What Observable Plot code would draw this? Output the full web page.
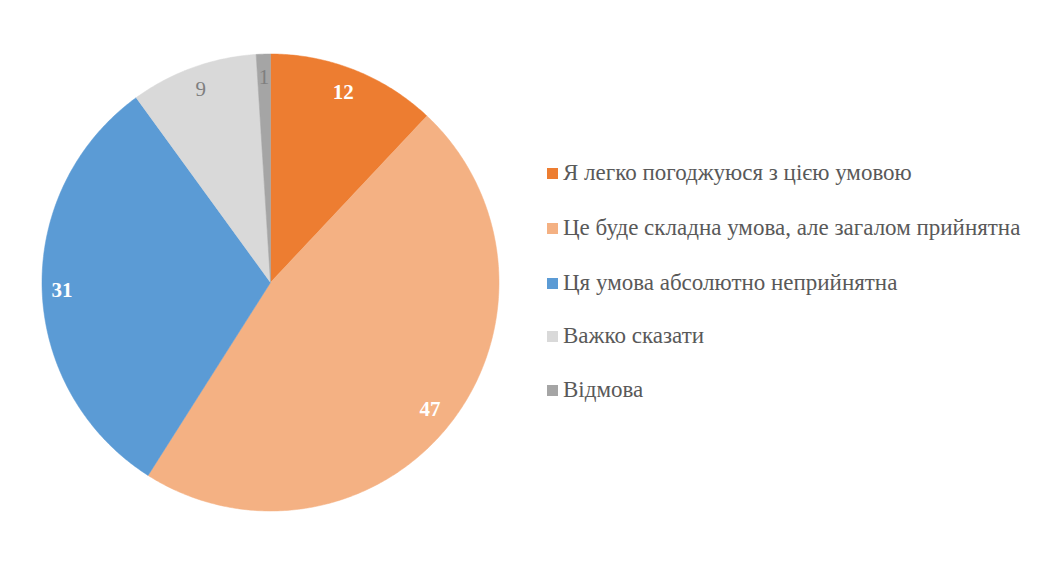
<!DOCTYPE html>
<html>
<head>
<meta charset="utf-8">
<script src="https://cdn.jsdelivr.net/npm/d3@7"></script>
<script src="https://cdn.jsdelivr.net/npm/@observablehq/plot@0.6"></script>
<style>
  html, body { margin: 0; padding: 0; background: #fff; }
  #wrap { position: relative; width: 1044px; height: 579px; }
  #legend { position: absolute; left: 547px; top: 0; font-family: "Liberation Serif", "Times New Roman", serif; font-size: 23px; color: #595959; }
  .item { position: absolute; left: 0; white-space: nowrap; display: flex; align-items: center; }
  .sw { width: 11px; height: 11px; margin-right: 5px; flex: none; }
</style>
</head>
<body>
<div id="wrap"><div id="legend"></div></div>
<script>
const categories = [
  "Я легко погоджуюся з цією умовою",
  "Це буде складна умова, але загалом прийнятна",
  "Ця умова абсолютно неприйнятна",
  "Важко сказати",
  "Відмова"
];
const values = [12, 47, 31, 9, 1];
const colors = ["#ED7D31", "#F4B183", "#5B9BD5", "#D9D9D9", "#A5A5A5"];
const labelColors = ["#FFFFFF", "#FFFFFF", "#FFFFFF", "#7F7F7F", "#7F7F7F"];
const labelBold = [true, true, true, false, false];

const data = categories.map((c, i) => ({category: c, value: values[i], i}));
const arcs = d3.pie().sort(null).value(d => d.value)(data);

// slice outlines, computed from the pie angles
const pts = [];
for (const a of arcs) {
  const c = a.data.category;
  pts.push({category: c, x: 0, y: 0});
  const n = Math.max(2, Math.ceil((a.endAngle - a.startAngle) / 0.01));
  for (let k = 0; k <= n; k++) {
    const t = a.startAngle + (a.endAngle - a.startAngle) * k / n;
    pts.push({category: c, x: Math.sin(t), y: Math.cos(t)});
  }
  pts.push({category: c, x: 0, y: 0});
}
const labelR = 0.9;
const labels = arcs.map(a => {
  const m = (a.startAngle + a.endAngle) / 2;
  return {text: String(a.data.value), x: labelR * Math.sin(m), y: labelR * Math.cos(m), i: a.data.i};
});

const chart = Plot.plot({
  width: 1044,
  height: 579,
  margin: 0,
  x: {domain: [-1, 1], range: [41.5, 498.5], axis: null},
  y: {domain: [-1, 1], range: [510.5, 53.5], axis: null},
  color: {domain: categories, range: colors},
  style: {background: "transparent"},
  marks: [
    Plot.line(pts, {x: "x", y: "y", z: "category", fill: "category", stroke: "category", strokeWidth: 0.5, curve: "linear"}),
    Plot.text(labels.filter(d => labelBold[d.i]), {x: "x", y: "y", text: "text", dx: -3, dy: 1, fill: d => labelColors[d.i], fontFamily: "Liberation Serif", fontWeight: "bold", fontSize: 21}),
    Plot.text(labels.filter(d => !labelBold[d.i]), {x: "x", y: "y", text: "text", fill: d => labelColors[d.i], fontFamily: "Liberation Serif", fontSize: 21})
  ]
});
chart.style.position = "absolute";
chart.style.left = "0";
chart.style.top = "0";
document.getElementById("wrap").prepend(chart);

const legendY = [173, 228, 283, 336, 390];
const legend = document.getElementById("legend");
categories.forEach((c, i) => {
  const it = document.createElement("div");
  it.className = "item";
  it.style.top = (legendY[i] - 14) + "px";
  it.style.height = "28px";
  const sw = document.createElement("span");
  sw.className = "sw";
  sw.style.background = colors[i];
  const tx = document.createElement("span");
  tx.textContent = c;
  it.appendChild(sw);
  it.appendChild(tx);
  legend.appendChild(it);
});
</script>
</body>
</html>
